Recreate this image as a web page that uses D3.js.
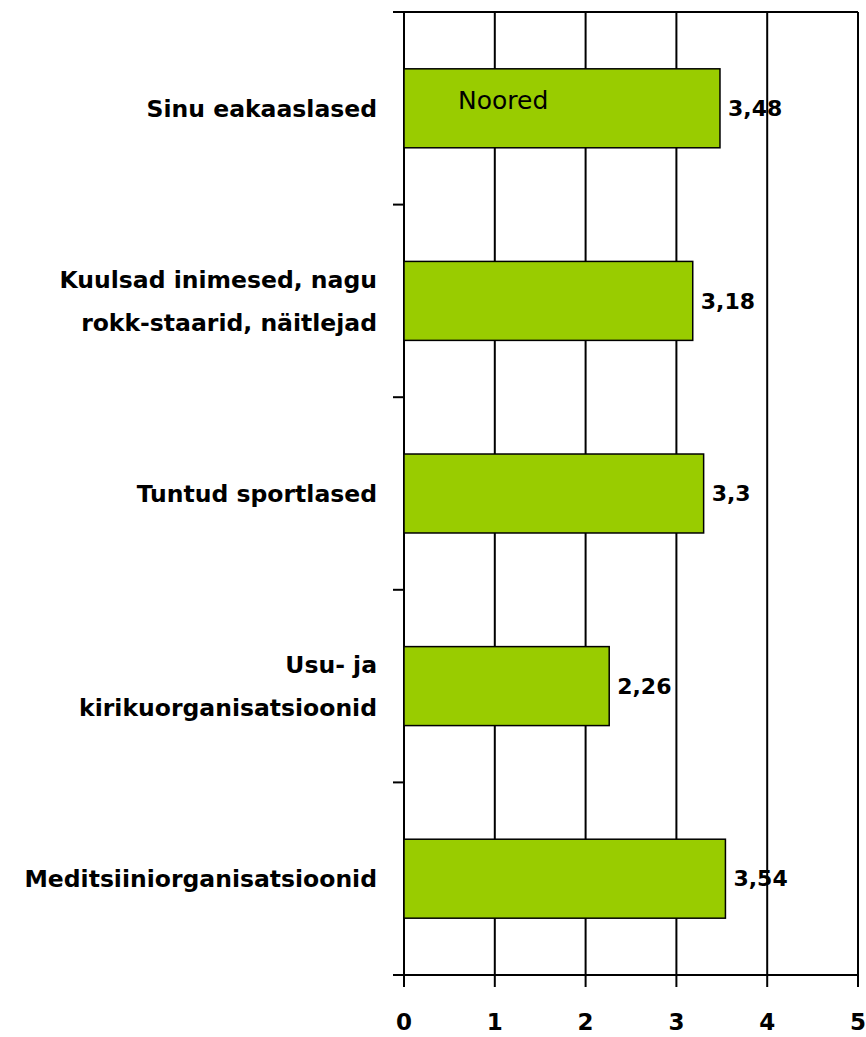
<!DOCTYPE html>
<meta charset="utf-8">
<style>
body { margin: 0; background: #fff; }
text { font-family: "DejaVu Sans", sans-serif; fill: #000; }
.grid line, .frame line { stroke: #000; stroke-width: 2px; }
.bar { fill: #99cc00; stroke: #000; stroke-width: 1.5px; }
</style>
<svg width="866" height="1037"></svg>
<script src="https://d3js.org/d3.v7.min.js"></script>
<script>

var categories = [
  ["Sinu eakaaslased"],
  ["Kuulsad inimesed, nagu", "rokk-staarid, näitlejad"],
  ["Tuntud sportlased"],
  ["Usu- ja", "kirikuorganisatsioonid"],
  ["Meditsiiniorganisatsioonid"]
];
var values = [3.48, 3.18, 3.3, 2.26, 3.54];
var valueLabels = ["3,48", "3,18", "3,3", "2,26", "3,54"];
var xTicks = [0, 1, 2, 3, 4, 5];
var seriesName = "Noored";

var svg = d3.select("svg"),
    margin = {top: 12, right: 8, bottom: 62, left: 404},
    width = +svg.attr("width") - margin.left - margin.right,
    height = +svg.attr("height") - margin.top - margin.bottom;

var g = svg.append("g").attr("transform", "translate(" + margin.left + "," + margin.top + ")");

var x = d3.scaleLinear().domain([0, 5]).range([0, width]);
var y = d3.scaleBand()
    .domain(d3.range(categories.length))
    .range([0, height])
    .paddingInner(0.59)
    .paddingOuter(0.295);

// vertical gridlines
g.append("g").attr("class", "grid")
  .selectAll("line")
  .data(xTicks.slice(1))
  .enter().append("line")
    .attr("x1", d => x(d)).attr("x2", d => x(d))
    .attr("y1", 0).attr("y2", height);

// frame: left axis, bottom axis, top border, category ticks
var frame = g.append("g").attr("class", "frame");
frame.append("line").attr("x1", 0).attr("x2", 0).attr("y1", 0).attr("y2", height);
frame.append("line").attr("x1", -11).attr("x2", width).attr("y1", height).attr("y2", height);
frame.append("line").attr("x1", -11).attr("x2", width).attr("y1", 0).attr("y2", 0);

var step = y.step();
frame.selectAll(".ytick")
  .data(d3.range(categories.length + 1))
  .enter().append("line")
    .attr("class", "ytick")
    .attr("x1", -11).attr("x2", 0)
    .attr("y1", d => d * step).attr("y2", d => d * step);

frame.selectAll(".xtick")
  .data(xTicks)
  .enter().append("line")
    .attr("class", "xtick")
    .attr("x1", d => x(d)).attr("x2", d => x(d))
    .attr("y1", height).attr("y2", height + 12);

g.selectAll(".xlabel")
  .data(xTicks)
  .enter().append("text")
    .attr("class", "xlabel")
    .attr("x", d => x(d))
    .attr("y", height + 55)
    .attr("text-anchor", "middle")
    .style("font-size", "23px")
    .style("font-weight", "bold")
    .text(d => d);

// bars
g.selectAll(".bar")
  .data(values)
  .enter().append("rect")
    .attr("class", "bar")
    .attr("x", 0)
    .attr("y", (d, i) => y(i))
    .attr("width", d => x(d))
    .attr("height", y.bandwidth());

// value labels
g.selectAll(".value")
  .data(values)
  .enter().append("text")
    .attr("class", "value")
    .attr("x", d => x(d) + 8)
    .attr("y", (d, i) => y(i) + y.bandwidth() / 2)
    .attr("dy", "0.35em")
    .style("font-size", "22px")
    .style("font-weight", "bold")
    .text((d, i) => valueLabels[i]);

// category labels
var lab = g.selectAll(".cat")
  .data(categories)
  .enter().append("text")
    .attr("class", "cat")
    .attr("text-anchor", "end")
    .style("font-size", "23.5px")
    .style("font-weight", "bold");

lab.each(function(lines, i) {
  var cy = y(i) + y.bandwidth() / 2;
  var lh = 43;
  var t = d3.select(this);
  lines.forEach(function(line, k) {
    t.append("tspan")
      .attr("x", -27)
      .attr("y", cy + (k - (lines.length - 1) / 2) * lh)
      .attr("dy", "0.35em")
      .text(line);
  });
});

// series name inside the first bar
g.append("text")
  .attr("x", 54)
  .attr("y", y(0) + y.bandwidth() / 2 - 8)
  .attr("dy", "0.35em")
  .style("font-size", "25px")
  .text(seriesName);

</script>
